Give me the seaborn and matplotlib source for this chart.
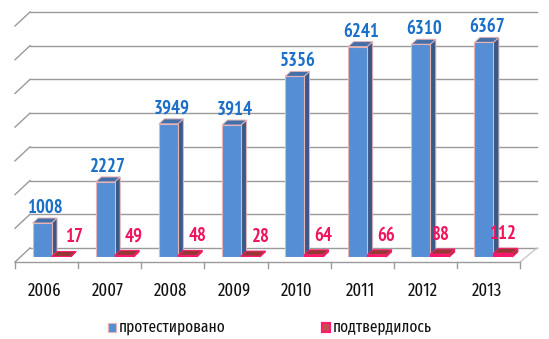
import matplotlib
matplotlib.use("Agg")
import matplotlib.pyplot as plt
import pandas as pd
import seaborn as sns
from matplotlib.patches import Polygon, Rectangle
from matplotlib.lines import Line2D
from matplotlib.transforms import IdentityTransform

# ---- data -------------------------------------------------------------
years = ["2006", "2007", "2008", "2009", "2010", "2011", "2012", "2013"]
tested = [1008, 2227, 3949, 3914, 5356, 6241, 6310, 6367]
confirmed = [17, 49, 48, 28, 64, 66, 88, 112]
series_names = ["протестировано", "подтвердилось"]

df = pd.DataFrame({
    "year": years * 2,
    "series": [series_names[0]] * len(years) + [series_names[1]] * len(years),
    "value": tested + confirmed,
})

# ---- style ------------------------------------------------------------
BLUE_FRONT, BLUE_TOP, BLUE_SIDE = "#558ed5", "#4470a9", "#38598a"
RED_FRONT, RED_TOP = "#f2186b", "#953735"
BLUE_EDGE, RED_EDGE = "#e7b3b3", "#ff1a6e"
GRID = "#9a9a9a"
BLUE_TXT, RED_TXT = "#1a6fc8", "#f0145e"
VALUE_FONT = "PT Sans Narrow"
AXIS_FONT = "Fira Sans Extra Condensed"

DX, DY = 5.5, 5.0          # bar depth (pixels)
BACK = (10.0, 9.0)         # back wall offset from bar plane
FRONT = (-5.0, -5.0)       # floor front edge offset from bar plane
red_label_shift = [13, 9, 10, 11, 10, 9, 0, 0]

W, H = 549, 339
fig = plt.figure(figsize=(W / 100, H / 100), dpi=100)
fig.patch.set_facecolor("white")
ax = fig.add_axes([20 / W, (H - 257) / H, 505 / W, 236 / H])

sns.barplot(data=df, x="year", y="value", hue="series", order=years,
            hue_order=series_names, palette=[BLUE_FRONT, RED_FRONT],
            width=0.6, saturation=1, legend=False, ax=ax, zorder=1)
ax.set_xlim(-0.5, len(years) - 0.5)
ax.set_ylim(0, 7000)
ax.set_yticks(range(0, 7001, 1000))
ax.axis("off")

ID = IdentityTransform()


def px(x, y):
    return ax.transData.transform((x, y))


def line(xs, ys, **kw):
    ax.add_artist(Line2D(xs, ys, transform=ID, clip_on=False, **kw))


# ---- back wall gridlines, left wall diagonals, floor ------------------
xl = px(-0.5, 0)[0]
xr = px(len(years) - 0.5, 0)[0]
for v in ax.get_yticks():
    y = px(0, v)[1]
    line([xl + BACK[0], xr + BACK[0] + 2], [y + BACK[1], y + BACK[1]],
         color=GRID, lw=1.0, zorder=0.5)
    line([xl + FRONT[0], xl + BACK[0]], [y + FRONT[1], y + BACK[1]],
         color=GRID, lw=1.0, zorder=0.5)

y0 = px(0, 0)[1]
line([xl + FRONT[0], xr + FRONT[0]], [y0 + FRONT[1]] * 2, color=GRID, lw=1.0, zorder=0.5)
line([xr + FRONT[0], xr + BACK[0] + 2], [y0 + FRONT[1], y0 + BACK[1]],
     color="#c8c8c8", lw=1.0, zorder=0.5)
for i in range(len(years) + 1):
    xt = px(i - 0.5, 0)[0] + FRONT[0]
    line([xt, xt], [y0 + FRONT[1], y0 + FRONT[1] - 6], color=GRID, lw=1.0, zorder=0.5)

for i, yr in enumerate(years):
    xc = px(i, 0)[0] + FRONT[0] - 2
    ax.text(xc, H - 291, yr, transform=ID, ha="center", va="center",
            fontsize=13, family=AXIS_FONT, color="#111111")

# ---- 3D faces of the bars and value labels ----------------------------
styles = [
    dict(front_edge=BLUE_EDGE, top=BLUE_TOP, side=BLUE_SIDE, edge=BLUE_EDGE, z=0.9),
    dict(front_edge=RED_EDGE, top=RED_TOP, side=RED_TOP, edge=RED_EDGE, z=1.1),
]
for k, (cont, st) in enumerate(zip(ax.containers, styles)):
    for i, bar in enumerate(cont):
        bar.set_edgecolor(st["front_edge"])
        bar.set_linewidth(0.8 if k == 0 else 1.0)
        bx, bw, bh = bar.get_x(), bar.get_width(), bar.get_height()
        X0, Y0 = px(bx, 0)
        X1, Y1 = px(bx + bw, bh)
        top = Polygon([(X0, Y1), (X1, Y1), (X1 + DX, Y1 + DY), (X0 + DX, Y1 + DY)],
                      closed=True, transform=ID, clip_on=False,
                      facecolor=st["top"], edgecolor=st["edge"], lw=0.7, zorder=st["z"])
        side = Polygon([(X1, Y0), (X1, Y1), (X1 + DX, Y1 + DY), (X1 + DX, Y0 + DY)],
                       closed=True, transform=ID, clip_on=False,
                       facecolor=st["side"], edgecolor=st["edge"], lw=0.7, zorder=st["z"])
        ax.add_artist(side)
        ax.add_artist(top)
        xc = (X0 + X1) / 2
        if k == 0:
            ax.text(xc + 3, Y1 + 10, f"{int(bh)}", transform=ID, ha="center",
                    va="baseline", fontsize=13.5, fontweight="bold",
                    family=VALUE_FONT, color=BLUE_TXT, zorder=3)
        else:
            ax.text(xc + red_label_shift[i], Y1 + 14, f"{int(bh)}", transform=ID,
                    ha="center", va="baseline", fontsize=13.5, fontweight="bold",
                    family=VALUE_FONT, color=RED_TXT, zorder=3)

# ---- legend -----------------------------------------------------------
leg = [(108, BLUE_FRONT, BLUE_EDGE, 0.8, series_names[0]),
       (322, "#c0504d", RED_EDGE, 1.6, series_names[1])]
for x, fc, ec, lw, name in leg:
    ax.add_artist(Rectangle((x, H - 332), 7.5, 9.5, transform=ID, clip_on=False,
                            facecolor=fc, edgecolor=ec, lw=lw))
    ax.text(x + 11, H - 327, name, transform=ID, ha="left", va="center",
            fontsize=12, family=AXIS_FONT, color="#111111")

fig.savefig("out.png", dpi=100, facecolor="white")
